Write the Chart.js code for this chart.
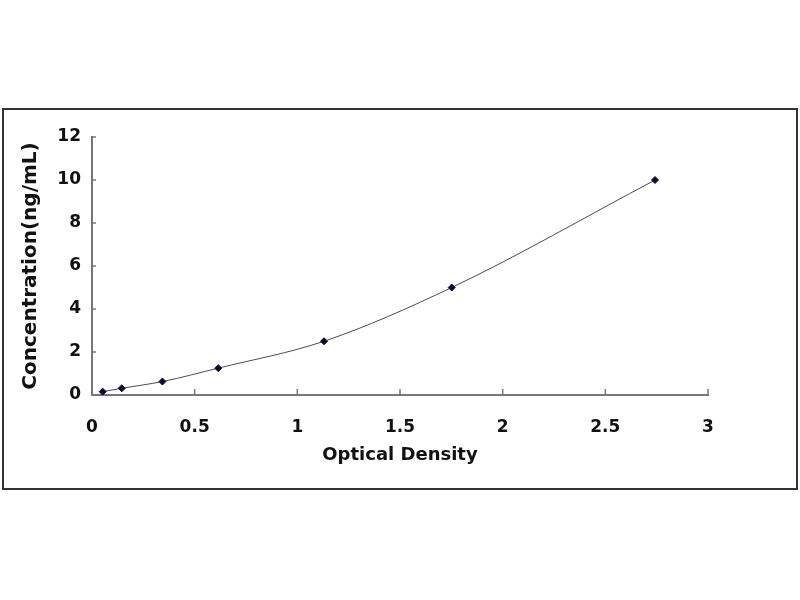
<!DOCTYPE html>
<html>
<head>
<meta charset="utf-8">
<script src="https://cdn.jsdelivr.net/npm/chart.js@4"></script>
<style>
  html, body { margin: 0; padding: 0; background: #fff; }
  #wrap { position: relative; width: 800px; height: 600px; }
  #frame { position: absolute; left: 2px; top: 108px; width: 796px; height: 382px;
           box-sizing: border-box; border: 2px solid #333; pointer-events: none; }
  canvas { position: absolute; left: 0; top: 0; }
</style>
</head>
<body>
<div id="wrap">
  <canvas id="curve" width="800" height="600"></canvas>
  <div id="frame"></div>
</div>
<script>
// standard curve: optical density vs concentration
const opticalDensity = [0.052, 0.145, 0.343, 0.615, 1.13, 1.752, 2.742];
const concentration = [0.156, 0.312, 0.625, 1.25, 2.5, 5, 10];
const xTickValues = [0, 0.5, 1, 1.5, 2, 2.5, 3];
const yTickValues = [0, 2, 4, 6, 8, 10, 12];

const points = opticalDensity.map((od, i) => ({ x: od, y: concentration[i] }));

// draws the small inward tick marks like the original plot
const innerTicks = {
    id: 'innerTicks',
    afterDatasetsDraw(chart) {
        const { ctx, scales: { x, y } } = chart;
        ctx.save();
        ctx.strokeStyle = '#777';
        ctx.lineWidth = 1.5;
        xTickValues.forEach(v => {
            const px = x.getPixelForValue(v);
            ctx.beginPath();
            ctx.moveTo(px, y.bottom);
            ctx.lineTo(px, y.bottom - 6);
            ctx.stroke();
        });
        yTickValues.forEach(v => {
            const py = y.getPixelForValue(v);
            ctx.beginPath();
            ctx.moveTo(x.left, py);
            ctx.lineTo(x.left + 4, py);
            ctx.stroke();
        });
        ctx.restore();
    }
};

new Chart(document.getElementById('curve').getContext('2d'), {
    type: 'scatter',
    data: {
        datasets: [{
            data: points,
            showLine: true,
            borderColor: '#4a4a5e',
            borderWidth: 1,
            cubicInterpolationMode: 'monotone',
            pointStyle: 'rectRot',
            pointRadius: 3.5,
            pointBackgroundColor: '#0a0a30',
            pointBorderColor: '#0a0a30',
            pointBorderWidth: 1
        }]
    },
    options: {
        responsive: false,
        animation: false,
        layout: { padding: { left: 0, top: 137, right: 92, bottom: 125 } },
        plugins: {
            legend: { display: false },
            tooltip: { enabled: false }
        },
        scales: {
            x: {
                type: 'linear',
                min: 0,
                max: 3,
                afterBuildTicks: scale => { scale.ticks = xTickValues.map(v => ({ value: v })); },
                afterFit: scale => { scale.height = 80; },
                grid: { display: false, drawTicks: false },
                border: { display: true, color: '#777', width: 2 },
                ticks: {
                    padding: 22,
                    color: '#111',
                    callback: value => String(value),
                    font: { family: 'DejaVu Sans', size: 17, weight: 'bold' }
                },
                title: {
                    display: true,
                    text: 'Optical Density',
                    color: '#111',
                    padding: { top: 0, bottom: 9 },
                    font: { family: 'DejaVu Sans', size: 18, weight: 'bold' }
                }
            },
            y: {
                type: 'linear',
                min: 0,
                max: 12,
                afterBuildTicks: scale => { scale.ticks = yTickValues.map(v => ({ value: v })); },
                afterFit: scale => { scale.width = 92; },
                grid: { display: false, drawTicks: false },
                border: { display: true, color: '#777', width: 2 },
                ticks: {
                    padding: 11,
                    color: '#111',
                    callback: value => String(value),
                    font: { family: 'DejaVu Sans', size: 17, weight: 'bold' }
                },
                title: {
                    display: true,
                    text: 'Concentration(ng/mL)',
                    color: '#111',
                    padding: { top: 19, bottom: 0 },
                    font: { family: 'DejaVu Sans', size: 20, weight: 'bold' }
                }
            }
        }
    },
    plugins: [innerTicks]
});
</script>
</body>
</html>
